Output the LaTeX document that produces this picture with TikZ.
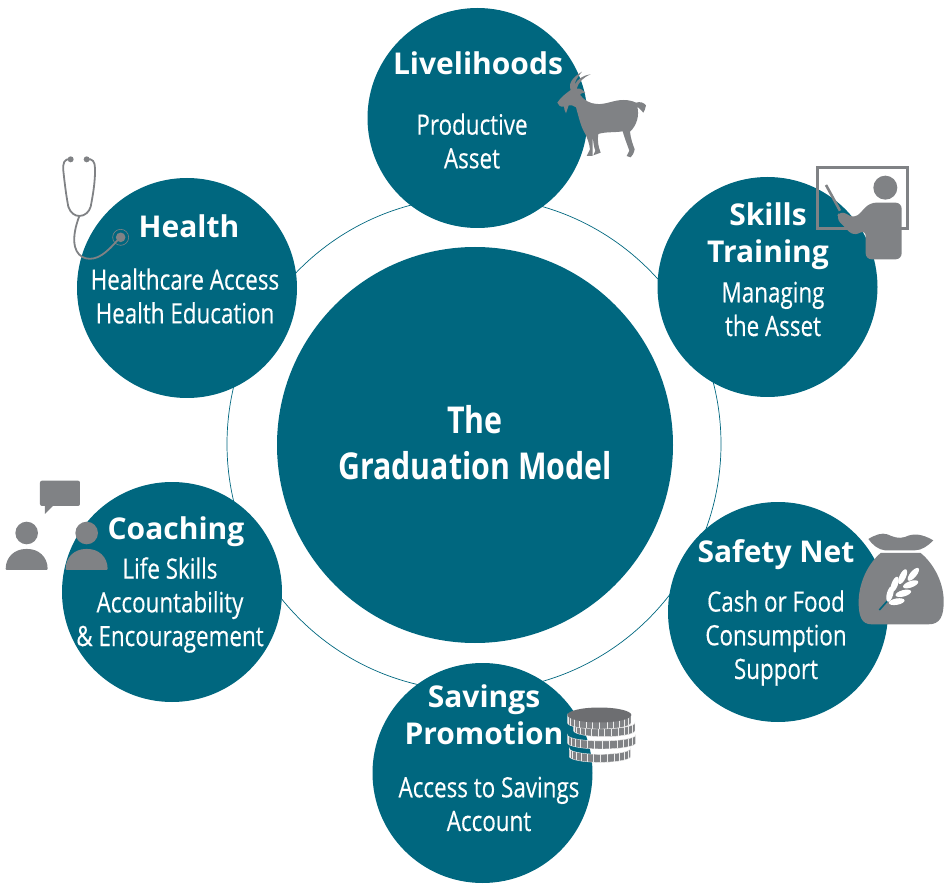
\documentclass[tikz,border=0pt]{standalone}
\usepackage{fontspec}
\setmainfont{Open Sans}
\newfontfamily\narrowfont[FakeStretch=0.8,FakeBold=0.35]{Open Sans}
\newfontfamily\titlefont[FakeStretch=0.82]{Open Sans}
\definecolor{tealblue}{HTML}{00677F}
\definecolor{icongray}{HTML}{808285}
\definecolor{coingray}{HTML}{6D6E71}
\tikzset{
    bubble/.style={circle,fill=tealblue,inner sep=0pt,outer sep=0pt,minimum size=220pt},
    headtext/.style={text=white,align=center,font=\bfseries\fontsize{30}{37}\selectfont},
    subtext/.style={text=white,align=center,font=\narrowfont\fontsize{28}{33.7}\selectfont},
    maintext/.style={text=white,align=center,font=\titlefont\bfseries\fontsize{37}{46}\selectfont},
    icon/.style={fill=icongray,draw=none},
    zoomed/.style={x=0.3333pt,y=-0.3333pt}
}
\begin{document}
\begin{tikzpicture}[x=1pt,y=-1pt]
    \useasboundingbox (0,0) rectangle (946,885);

    % Ring behind the circles
    \draw[tealblue,line width=0.7pt] (474,444) circle[radius=247pt];

    % Circles
    \node[bubble,minimum size=396pt] (model) at (475,445) {};
    \node[bubble] (livelihoods) at (477.5,118) {};
    \node[bubble] (skills) at (767.5,287) {};
    \node[bubble] (safety) at (778,612) {};
    \node[bubble] (savings) at (482.5,773) {};
    \node[bubble] (coaching) at (172,592) {};
    \node[bubble] (health) at (187,288) {};

    % Labels
    \node[maintext] (modelText) at (475,443) {The\\Graduation Model};
    \node[headtext] (livelihoodsHead) at (478,63) {Livelihoods};
    \node[subtext] (livelihoodsSub) at (472,141) {Productive\\Asset};
    \node[headtext] (skillsHead) at (768,236) {Skills\\Training};
    \node[subtext] (skillsSub) at (773,309) {Managing\\the Asset};
    \node[headtext] (safetyHead) at (776,555) {Safety Net};
    \node[subtext] (safetySub) at (776,638) {Cash or Food\\Consumption\\Support};
    \node[headtext] (savingsHead) at (484,715) {Savings\\Promotion};
    \node[subtext] (savingsSub) at (489,804) {Access to Savings\\Account};
    \node[headtext] (coachingHead) at (176,532) {Coaching};
    \node[subtext] (coachingSub) at (170,605) {Life Skills\\Accountability\\\& Encouragement};
    \node[headtext] (healthHead) at (189,226) {Health};
    \node[subtext] (healthSub) at (185,296) {Healthcare Access\\Health Education};

    % Goat
    \begin{scope}[shift={(540pt,-60pt)},zoomed]
        \fill[icon] (52,128) .. controls (62,112) and (78,100) .. (92,90)
            .. controls (84,70) and (98,52) .. (126,35)
            .. controls (112,52) and (106,62) .. (104,74)
            .. controls (112,58) and (128,46) .. (152,43)
            .. controls (130,52) and (116,66) .. (110,86)
            .. controls (120,84) and (130,90) .. (136,98)
            .. controls (128,98) and (122,100) .. (120,104)
            .. controls (134,122) and (148,130) .. (170,132)
            .. controls (200,134) and (220,120) .. (250,120)
            .. controls (268,120) and (280,124) .. (288,128)
            .. controls (300,124) and (312,128) .. (318,136)
            .. controls (316,146) and (314,152) .. (310,158)
            .. controls (304,150) and (298,146) .. (292,140)
            .. controls (298,165) and (292,195) .. (270,215)
            .. controls (272,235) and (278,252) .. (284,268)
            .. controls (282,280) and (276,288) .. (272,292)
            -- (260,288) -- (268,272) .. controls (262,255) and (254,235) .. (248,214)
            .. controls (225,218) and (195,215) .. (175,222)
            .. controls (172,240) and (174,258) .. (182,278)
            -- (160,286) -- (166,272) .. controls (160,258) and (160,240) .. (158,232)
            .. controls (158,250) and (158,270) .. (158,288)
            -- (140,288) -- (150,268) .. controls (148,250) and (142,235) .. (136,222)
            .. controls (122,200) and (116,170) .. (108,142)
            .. controls (100,136) and (92,134) .. (86,136)
            -- (78,160) .. controls (74,152) and (72,146) .. (72,140)
            .. controls (62,142) and (54,136) .. (52,128) -- cycle;
    \end{scope}

    % Teacher and board
    \begin{scope}[shift={(800pt,-150pt)},zoomed]
        \draw[icongray,line width=3pt] (53,53) rectangle (323,236);
        \fill[icon] (256,113) circle[radius=12pt];
        \draw[icongray,line width=2.6pt] (78,105) -- (120,182);
        \fill[icon,rounded corners=6pt] (210,158) -- (305,158) -- (305,328) -- (197,328)
            -- (197,240) -- (160,258) -- (108,205) -- (120,182) -- (165,205) -- cycle;
    \end{scope}

    % Stethoscope
    \begin{scope}[shift={(50pt,-150pt)},zoomed]
        \draw[icongray,line width=1.8pt,line cap=round] (62,28)
            .. controls (42,25) and (38,40) .. (40,62)
            .. controls (45,110) and (50,145) .. (55,170)
            .. controls (62,190) and (75,198) .. (88,198)
            .. controls (105,198) and (118,185) .. (122,170)
            .. controls (130,130) and (136,90) .. (135,55)
            .. controls (135,35) and (128,25) .. (110,28);
        \draw[icongray,line width=1.8pt] (88,198)
            .. controls (78,225) and (68,260) .. (75,290)
            .. controls (85,330) and (125,335) .. (155,315)
            .. controls (175,302) and (190,285) .. (205,268);
        \fill[icon] (62,28) circle[radius=3pt] (110,28) circle[radius=3pt];
        \draw[icongray,line width=0.6pt] (212,262) circle[radius=8pt];
        \fill[icon] (212,262) circle[radius=4.8pt];
    \end{scope}

    % Two people talking
    \begin{scope}[shift={(0pt,-475pt)},zoomed]
        \fill[icon,rounded corners=2pt] (120,17) rectangle (240,93);
        \fill[icon] (135,90) -- (135,117) -- (162,90) -- cycle;
        \foreach \px in {80,260} {
            \fill[icon] (\px,174) circle[radius=11.3pt];
            \fill[icon,rounded corners=1pt] (\px-63,285) .. controls (\px-63,245) and (\px-35,222) .. (\px,222)
                .. controls (\px+35,222) and (\px+63,245) .. (\px+63,285) -- cycle;
        }
    \end{scope}

    % Money bag with wheat
    \begin{scope}[shift={(850pt,-525pt)},zoomed]
        \fill[icon] (55,42) .. controls (75,30) and (95,22) .. (112,28)
            .. controls (130,36) and (145,42) .. (165,36)
            .. controls (190,24) and (215,26) .. (250,46)
            .. controls (235,62) and (215,76) .. (195,76)
            -- (105,76) .. controls (85,74) and (68,60) .. (55,42) -- cycle;
        \fill[icon] (92,84) -- (212,84)
            .. controls (250,115) and (280,170) .. (281,225)
            .. controls (282,275) and (270,298) .. (235,298)
            -- (65,298) .. controls (35,298) and (25,275) .. (26,225)
            .. controls (28,170) and (55,115) .. (92,84) -- cycle;
        \draw[tealblue,line width=1.6pt] (88,255) -- (112,228);
        \foreach \gx/\gy/\ga in {190/148/50,158/155/65,134/178/70,120/207/75,
            182/178/20,160/205/15,140/230/10} {
            \fill[white,rotate around={\ga:(\gx,\gy)}] (\gx,\gy) ellipse[x radius=8pt,y radius=3.2pt];
        }
    \end{scope}

    % Stack of coins
    \begin{scope}[shift={(560pt,-700pt)},zoomed]
        \foreach \cx/\cy/\rx in {120/145/92,125/105/102,133/68/92,118/45/95} {
            \fill[icon,draw=white!85!gray,line width=0.4pt]
                plot[domain=180:360,samples=30] ({\cx+\rx*cos(\x)},{\cy-18*sin(\x)})
                -- plot[domain=360:180,samples=30] ({\cx+\rx*cos(\x)},{\cy+24-18*sin(\x)}) -- cycle;
            \foreach \ta in {193,206,...,347} {
                \draw[white!85!gray,line width=0.8pt]
                    ({\cx+\rx*cos(\ta)},{\cy-18*sin(\ta)}) -- ++(0,24);
            }
        }
        \fill[coingray] (118,45) ellipse[x radius=32pt,y radius=7.5pt];
    \end{scope}
\end{tikzpicture}
\end{document}
